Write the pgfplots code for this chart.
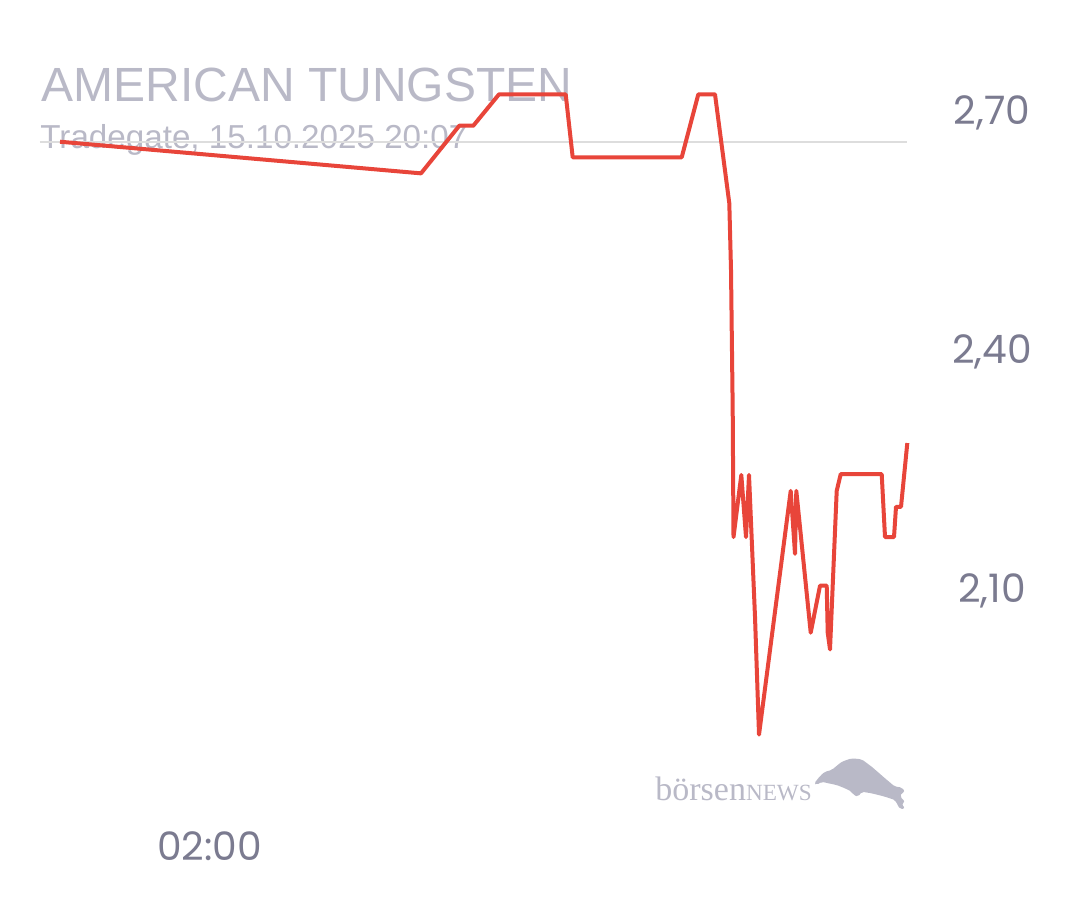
\documentclass[border=0pt]{standalone}
\usepackage{pgfplots}
\pgfplotsset{compat=1.18}
\usepackage{fontspec}
\setmainfont{Liberation Sans}
\newfontfamily\tickfont{Poppins}
\newfontfamily\logofont{Liberation Serif}
\definecolor{titlegray}{HTML}{B9B9C7}
\definecolor{tickgray}{HTML}{7B7B90}
\definecolor{linered}{HTML}{E8453A}
\definecolor{refgray}{HTML}{DDDDDD}
\begin{document}
\begin{tikzpicture}
\path[use as bounding box] (0,0) rectangle (540pt,450pt);
\begin{scope}[x=0.5pt,y=-0.5pt,yshift=450pt]
\node[anchor=base west,inner sep=0,text=titlegray,font=\fontsize{24}{28}\selectfont] at (41,101.7) {AMERICAN TUNGSTEN};
\node[anchor=base west,inner sep=0,text=titlegray,font=\fontsize{16.6}{20}\selectfont] at (40,149) {Tradegate, 15.10.2025 20:07};
\node[anchor=base west,inner sep=0,text=titlegray] at (655,800.7) {\logofont\fontsize{17}{20}\selectfont börsen\fontsize{11.6}{14}\selectfont NEWS};
\fill[titlegray,rounded corners=1pt] (814.3,783.3) -- (820,776) -- (825,771.7) -- (831.7,770) -- (841.7,761.7) -- (851.7,758.3) -- (861.7,759.3) -- (871.7,766.7) -- (885,778.3) -- (895,786.7) -- (901.7,787.3) -- (905,791.7) -- (901.7,792.7) -- (900,796.7) -- (905,801.7) -- (901.7,804) -- (905,808.3) -- (900,809.3) -- (895,800) -- (885,796.7) -- (871.7,793.3) -- (861.7,791.7) -- (858.3,796.7) -- (853.3,795) -- (851.7,791.7) -- (845,788.3) -- (836.7,785) -- (828.3,783.3) -- (821.7,781.7) -- (816.7,785) -- cycle;
\end{scope}
\begin{axis}[
  at={(20pt,76.3pt)}, anchor=south west,
  scale only axis, width=433.5pt, height=330.65pt,
  xmin=40, xmax=907, ymin=1.90, ymax=2.73,
  axis line style={draw=none},
  major tick length=0pt,
  xtick={209.5}, xticklabels={02:00},
  ytick={2.10,2.40,2.70}, yticklabels={{2,10},{2,40},{2,70}},
  yticklabel pos=right,
  tick label style={font=\tickfont\fontsize{19.6}{22}\selectfont, text=tickgray},
  yticklabel style={anchor=center, xshift=42.5pt, yshift=-1.5pt},
  xticklabel style={anchor=center, yshift=-49.3pt},
  clip=false
]
\addplot[refgray, line width=1pt] coordinates {(40,2.6602) (907,2.6602)};
\addplot[linered, line width=2pt, line join=round] coordinates {
(60,2.6602) (421,2.6205) (459.3,2.6803) (473.3,2.6803) (499,2.7197) (565.7,2.7197)
(572.7,2.6406) (681.7,2.6406) (698.3,2.7197) (715,2.7197) (729.3,2.5829) (731,2.4992)
(732.7,2.3234) (733.5,2.164) (741.3,2.242) (746,2.164) (749,2.242) (753,2.123)
(755,2.064) (759,1.916) (790.7,2.222) (795,2.143) (796.3,2.222) (810.7,2.044)
(820,2.103) (826.7,2.103) (827.7,2.044) (830,2.023) (836.7,2.222) (840.7,2.243)
(881.7,2.243) (885,2.164) (894,2.164) (896,2.202) (901,2.202) (907.3,2.282)
};
\end{axis}
\end{tikzpicture}
\end{document}
